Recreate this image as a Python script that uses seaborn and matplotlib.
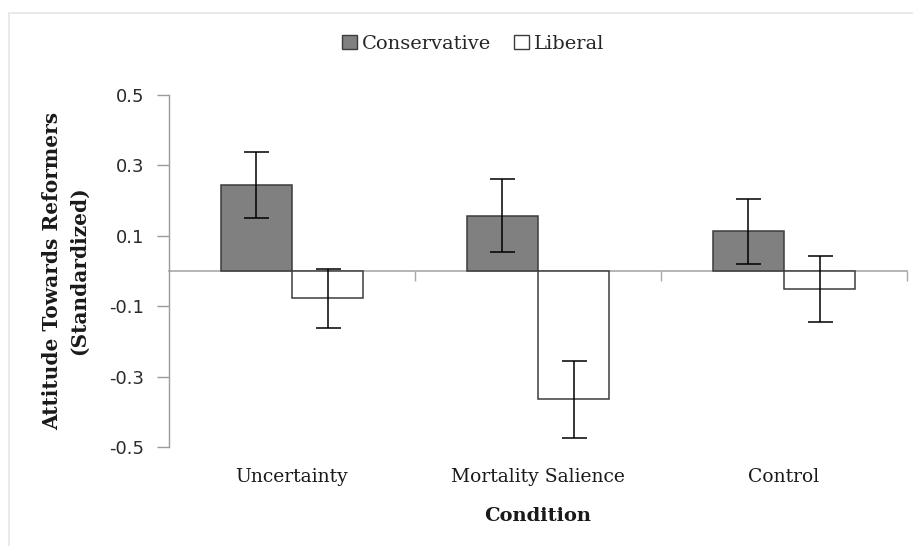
import matplotlib
matplotlib.use("Agg")
import matplotlib.pyplot as plt
import seaborn as sns
import pandas as pd
from matplotlib.patches import Rectangle, Patch

conditions = ["Uncertainty", "Mortality Salience", "Control"]
groups = ["Conservative", "Liberal"]
conservative_means = [0.245, 0.157, 0.113]
conservative_errs = [0.093, 0.103, 0.092]
liberal_means = [-0.077, -0.365, -0.052]
liberal_errs = [0.084, 0.110, 0.094]
y_ticks = [-0.5, -0.3, -0.1, 0.1, 0.3, 0.5]

df = pd.DataFrame({
    "Condition": conditions * 2,
    "Ideology": [groups[0]] * 3 + [groups[1]] * 3,
    "Value": conservative_means + liberal_means,
})
errs = {groups[0]: conservative_errs, groups[1]: liberal_errs}

sns.set_theme(style="white")
plt.rcParams["font.family"] = ["DejaVu Serif"]

fig = plt.figure(figsize=(9.13, 5.46), dpi=100)
ax = fig.add_axes([0.1851, 0.1813, 0.8083, 0.6447])

# light chart-area border
fig.patches.append(Rectangle((9 / 913, -0.05), 1.2, 1 - 13 / 546 + 0.05,
                             transform=fig.transFigure, fill=False,
                             edgecolor="#e6e6e6", linewidth=1.2, zorder=0))

edge = "#3c3c3c"
sns.barplot(data=df, x="Condition", y="Value", hue="Ideology",
            palette={"Conservative": "#808080", "Liberal": "white"},
            edgecolor=edge, linewidth=1.1, width=0.58, errorbar=None,
            legend=False, ax=ax, zorder=3)

for cont, g in zip(ax.containers, groups):
    xs = [b.get_x() + b.get_width() / 2 for b in cont]
    ys = [(b.get_y() + b.get_height()) for b in cont]
    ax.errorbar(xs, ys, yerr=errs[g], fmt="none", ecolor="black",
                elinewidth=1.1, capsize=9, capthick=1.1, zorder=4)

ax.set_xlim(-0.5, 2.5)
ax.set_ylim(-0.5, 0.5)
ax.set_yticks(y_ticks)
ax.set_yticklabels([f"{t:.1f}" for t in y_ticks], family="DejaVu Sans",
                   fontsize=13, color="#2a2a2a")
ax.tick_params(axis="y", direction="out", length=9, width=1, color="#9a9a9a",
               pad=9, left=True)

for s in ["top", "right"]:
    ax.spines[s].set_visible(False)
ax.spines["left"].set_color("#9a9a9a")
ax.spines["left"].set_linewidth(1)
ax.spines["bottom"].set_position(("data", 0))
ax.spines["bottom"].set_color("#a8a8a8")
ax.spines["bottom"].set_linewidth(1.2)
ax.spines["bottom"].set_zorder(2)

ax.set_xticks([0.5, 1.5, 2.5], minor=True)
ax.tick_params(axis="x", which="minor", direction="out", length=7, width=1,
               color="#a8a8a8", bottom=True)
ax.tick_params(axis="x", which="major", length=0, labelbottom=False)

sec = ax.secondary_xaxis(0)
sec.set_xticks(range(len(conditions)))
sec.set_xticklabels(conditions, fontsize=13.5, color="#1a1a1a")
sec.tick_params(length=0, pad=15)
sec.spines["bottom"].set_visible(False)

ax.set_xlabel("")
ax.set_ylabel("Attitude Towards Reformers\n(Standardized)", fontsize=14.5,
              fontweight="bold", color="#1a1a1a", linespacing=1.45)
ax.yaxis.set_label_coords(-0.108, 0.5)
fig.text(0.5 * (0.1851 + 0.9934), 1 - 516 / 546, "Condition", ha="center",
         va="center", fontsize=14, fontweight="bold", color="#1a1a1a")

handles = [Patch(facecolor="#808080", edgecolor=edge, linewidth=1.0),
           Patch(facecolor="white", edgecolor=edge, linewidth=1.0)]
fig.legend(handles, groups, loc="center", bbox_to_anchor=(473 / 913, 1 - 44 / 546),
           ncol=2, frameon=False, fontsize=14, handlelength=0.75,
           handleheight=0.75, handletextpad=0.25, columnspacing=1.2)

ax.set_facecolor("white")
fig.savefig("out.png", dpi=100, facecolor="white")
